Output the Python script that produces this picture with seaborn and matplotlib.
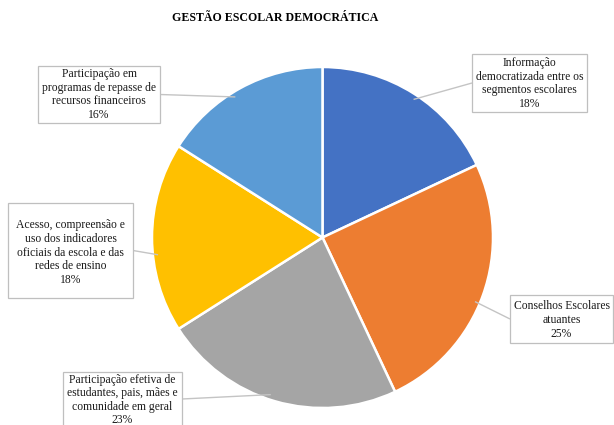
import numpy as np
import matplotlib
matplotlib.use("Agg")
import matplotlib.pyplot as plt
from matplotlib.patches import Rectangle
import seaborn as sns

# data
labels = [
    "Informação\ndemocratizada entre os\nsegmentos escolares",
    "Conselhos Escolares\natuantes",
    "Participação efetiva de\nestudantes, pais, mães e\ncomunidade em geral",
    "Acesso, compreensão e\nuso dos indicadores\noficiais da escola e das\nredes de ensino",
    "Participação em\nprogramas de repasse de\nrecursos financeiros",
]
values = [18, 25, 23, 18, 16]
colors = ["#4472C4", "#ED7D31", "#A5A5A5", "#FFC000", "#5B9BD5"]
title = "GESTÃO ESCOLAR DEMOCRÁTICA"

sns.set_theme(style="white")
plt.rcParams["font.family"] = ["Liberation Serif", "DejaVu Serif"]

W, H = 614, 425
fig = plt.figure(figsize=(W / 100, H / 100), dpi=100)
ax = fig.add_axes([0, 0, 1, 1])

def py(y):
    # pixel row (from top) -> data y
    return H - y

cx, cy, r = 322.5, py(237.5), 170.5
wedges, _ = ax.pie(values, colors=colors, startangle=90, counterclock=False,
                   center=(cx, cy), radius=r, frame=True,
                   wedgeprops=dict(edgecolor="white", linewidth=1.8))

ax.set_xlim(0, W)
ax.set_ylim(0, H)
ax.set_aspect("equal")
ax.axis("off")

# label box layout in pixels: (x0, y0, x1, y1), text centre, attach side, angle tweak
boxes = [
    ((472, 54, 587, 112), (529.5, 83.5), "left", -1),
    ((510, 295, 613, 343), (561.5, 320), "left", -3),
    ((63, 372, 182, 433), (122.5, 400), "right", -2),
    ((8, 203, 133, 298), (70.5, 252.5), "right", 6),
    ((38, 66, 160, 123), (99, 94.5), "right", 3),
]

for w, lab, v, (rect, tc, side, dang) in zip(wedges, labels, values, boxes):
    x0, y0, x1, y1 = rect
    ax.add_patch(Rectangle((x0, py(y1)), x1 - x0, y1 - y0, facecolor="white",
                           edgecolor="#bfbfbf", linewidth=0.9, zorder=3))
    ax.text(tc[0], py(tc[1]), f"{lab}\n{v}%", ha="center", va="center",
            fontsize=8.4, linespacing=1.17, color="#1a1a1a", zorder=4)
    ang = np.deg2rad((w.theta1 + w.theta2) / 2 + dang)
    ax_pt = (cx + 0.97 * r * np.cos(ang), cy + 0.97 * r * np.sin(ang))
    bx = x0 if side == "left" else x1
    by = (y0 + y1) / 2 if y1 < H else tc[1] - 1
    ax.plot([ax_pt[0], bx], [ax_pt[1], py(by)], color="#c4c4c4", linewidth=1.0,
            zorder=2, solid_capstyle="butt")

ax.text(275, py(18), title, ha="center", va="center", fontsize=8.6,
        fontweight="bold", color="#000000")

fig.savefig("out.png", dpi=100)
